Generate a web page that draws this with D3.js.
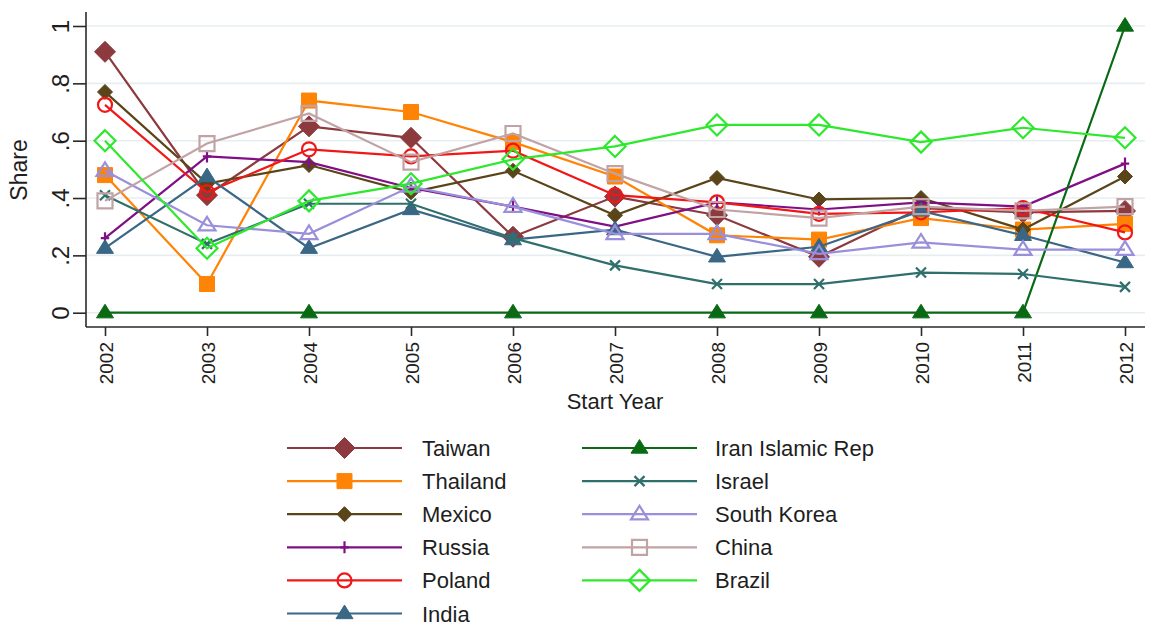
<!DOCTYPE html>
<html>
<head>
<meta charset="utf-8">
<script src="https://cdn.jsdelivr.net/npm/d3@7"></script>
<style>
  html, body { margin: 0; padding: 0; background: #fff; }
  svg { display: block; }
  text { font-family: "Liberation Sans", Arial, sans-serif; fill: #1e1e1e; }
</style>
</head>
<body>
<svg id="chart" width="1150" height="628"></svg>
<script>
// Start years on the x axis
const years = [2002, 2003, 2004, 2005, 2006, 2007, 2008, 2009, 2010, 2011, 2012];

// Share by start year for each country (null = no observation that year)
const taiwan     = [0.91, 0.41, 0.65, 0.61, 0.265, 0.405, 0.34, 0.195, 0.365, 0.35, 0.355];
const thailand   = [0.48, 0.10, 0.74, 0.70, 0.595, 0.475, 0.27, 0.255, 0.33, 0.29, 0.31];
const mexico     = [0.77, 0.45, 0.515, 0.42, 0.495, 0.34, 0.47, 0.395, 0.40, 0.29, 0.475];
const russia     = [0.26, 0.545, 0.525, 0.435, 0.37, 0.30, 0.385, 0.36, 0.385, 0.37, 0.52];
const poland     = [0.725, 0.42, 0.57, 0.545, 0.565, 0.41, 0.385, 0.345, 0.35, 0.365, 0.28];
const india      = [0.225, 0.475, 0.225, 0.36, 0.255, 0.29, 0.195, 0.23, 0.355, 0.27, 0.175];
const iran       = [0, null, 0, null, 0, null, 0, 0, 0, 0, 1.0];
const israel     = [0.41, 0.24, 0.38, 0.38, 0.26, 0.165, 0.10, 0.10, 0.14, 0.135, 0.09];
const southKorea = [0.495, 0.305, 0.275, 0.44, 0.37, 0.275, 0.275, 0.205, 0.245, 0.22, 0.22];
const china      = [0.39, 0.59, 0.695, 0.525, 0.625, 0.485, 0.36, 0.33, 0.37, 0.355, 0.37];
const brazil     = [0.60, 0.225, 0.39, 0.45, 0.535, 0.58, 0.655, 0.655, 0.595, 0.645, 0.61];

const seriesNames = ["Taiwan", "Thailand", "Mexico", "Russia", "Poland", "India",
                     "Iran Islamic Rep", "Israel", "South Korea", "China", "Brazil"];

// Axis tick values and labels
const yTicks = [0, 0.2, 0.4, 0.6, 0.8, 1];
const yTickLabels = ["0", ".2", ".4", ".6", ".8", "1"];

// Line colour and marker style for each series
const styles = [
  { color: "#8c3a3e", shape: "diamond", size: 10.5, fill: true },
  { color: "#ff8406", shape: "square",  size: 7.5, fill: true },
  { color: "#5a4419", shape: "diamond", size: 7.5, fill: true },
  { color: "#800f86", shape: "plus",    size: 6, fill: false },
  { color: "#f11717", shape: "circle",  size: 7, fill: false },
  { color: "#3a6785", shape: "triangle",size: 8.5, fill: true },
  { color: "#0a6a14", shape: "triangle",size: 8.5, fill: true },
  { color: "#2f6f6c", shape: "cross",   size: 5, fill: false },
  { color: "#9a8fda", shape: "triangle",size: 8.5, fill: false },
  { color: "#c1a3a6", shape: "square",  size: 7.5, fill: false },
  { color: "#2ee82e", shape: "diamond", size: 10.5, fill: false }
];

const values = [taiwan, thailand, mexico, russia, poland, india, iran, israel, southKorea, china, brazil];
const series = seriesNames.map((name, i) => ({
  name,
  style: styles[i],
  points: years.map((yr, j) => ({ year: yr, value: values[i][j] }))
                .filter(d => d.value !== null)
}));

const svg = d3.select("#chart");

const x = d3.scaleLinear().domain([2002, 2012]).range([105, 1125]);
const y = d3.scaleLinear().domain([0, 1]).range([312.7, 26]);

const plotLeft = 86, plotRight = 1145, plotTop = 12, plotBottom = 327;

// Horizontal grid lines
svg.append("g")
  .selectAll("line")
  .data(yTicks)
  .join("line")
  .attr("x1", plotLeft).attr("x2", plotRight)
  .attr("y1", d => y(d)).attr("y2", d => y(d))
  .attr("stroke", "#e7eef1").attr("stroke-width", 1.6);

// Marker path for a given shape
function markerPath(shape, s) {
  const p = d3.path();
  if (shape === "diamond") {
    p.moveTo(0, -s); p.lineTo(s, 0); p.lineTo(0, s); p.lineTo(-s, 0); p.closePath();
  } else if (shape === "square") {
    p.rect(-s, -s, 2 * s, 2 * s);
  } else if (shape === "triangle") {
    const h = s * 1.6;
    p.moveTo(0, -h * 0.62); p.lineTo(s, h * 0.38); p.lineTo(-s, h * 0.38); p.closePath();
  } else if (shape === "circle") {
    p.arc(0, 0, s, 0, 2 * Math.PI);
  } else if (shape === "plus") {
    p.moveTo(0, -s); p.lineTo(0, s); p.moveTo(-s * 0.7, 0); p.lineTo(s * 0.7, 0);
  } else if (shape === "cross") {
    p.moveTo(-s, -s); p.lineTo(s, s); p.moveTo(s, -s); p.lineTo(-s, s);
  }
  return p.toString();
}

function drawMarker(sel, st) {
  const open = !st.fill;
  sel.append("path")
    .attr("d", markerPath(st.shape, st.size))
    .attr("fill", open ? "none" : st.color)
    .attr("stroke", st.color)
    .attr("stroke-width", open ? 2.2 : 1)
    .attr("stroke-linejoin", "miter");
}

const line = d3.line().x(d => x(d.year)).y(d => y(d.value));

// Lines and markers, drawn in series order
const gSeries = svg.append("g");
series.forEach(s => {
  const g = gSeries.append("g");
  g.append("path")
    .datum(s.points)
    .attr("fill", "none")
    .attr("stroke", s.style.color)
    .attr("stroke-width", 2.2)
    .attr("d", line);
  g.selectAll("g.pt")
    .data(s.points)
    .join("g")
    .attr("class", "pt")
    .attr("transform", d => `translate(${x(d.year)},${y(d.value)})`)
    .each(function () { drawMarker(d3.select(this), s.style); });
});

// Axis lines
svg.append("line")
  .attr("x1", plotLeft).attr("x2", plotLeft).attr("y1", plotTop).attr("y2", plotBottom)
  .attr("stroke", "#2a2a2a").attr("stroke-width", 1.6);
svg.append("line")
  .attr("x1", plotLeft).attr("x2", plotRight).attr("y1", plotBottom).attr("y2", plotBottom)
  .attr("stroke", "#2a2a2a").attr("stroke-width", 1.6);

// Y axis
const yAxis = d3.axisLeft(y)
  .tickValues(yTicks)
  .tickFormat((d, i) => yTickLabels[i])
  .tickSize(13)
  .tickPadding(0);
const gy = svg.append("g").attr("transform", `translate(${plotLeft},0)`).call(yAxis);
gy.select(".domain").remove();
gy.selectAll(".tick line").attr("stroke", "#2a2a2a").attr("stroke-width", 1.6);
gy.selectAll(".tick text")
  .attr("x", null).attr("dy", null)
  .attr("text-anchor", "middle")
  .attr("transform", "translate(-26,0) rotate(-90) translate(0,8.5)")
  .style("font-size", "24px")
  .attr("fill", "#1e1e1e");

// X axis
const xAxis = d3.axisBottom(x)
  .tickValues(years)
  .tickFormat(d3.format("d"))
  .tickSize(9)
  .tickPadding(0);
const gx = svg.append("g").attr("transform", `translate(0,${plotBottom})`).call(xAxis);
gx.select(".domain").remove();
gx.selectAll(".tick line").attr("stroke", "#2a2a2a").attr("stroke-width", 1.6);
gx.selectAll(".tick text")
  .attr("y", null).attr("dy", null)
  .attr("text-anchor", "end")
  .attr("transform", "translate(0,15) rotate(-90) translate(0,7)")
  .style("font-size", "19px")
  .attr("fill", "#1e1e1e");

// Axis titles
svg.append("text")
  .attr("transform", "translate(27,170) rotate(-90)")
  .attr("text-anchor", "middle")
  .style("font-size", "23px")
  .text("Share");
svg.append("text")
  .attr("x", 615).attr("y", 409)
  .attr("text-anchor", "middle")
  .style("font-size", "22px")
  .text("Start Year");

// Legend: two columns, filled down the first column
const legendCols = [{ x0: 287, x1: 402, tx: 422 }, { x0: 582, x1: 697, tx: 715 }];
const legendTop = 448, legendStep = 33.1, perCol = 6;
const gLegend = svg.append("g");
series.forEach((s, i) => {
  const col = legendCols[Math.floor(i / perCol)];
  const ly = legendTop + (i % perCol) * legendStep;
  const g = gLegend.append("g");
  g.append("line")
    .attr("x1", col.x0).attr("x2", col.x1).attr("y1", ly).attr("y2", ly)
    .attr("stroke", s.style.color).attr("stroke-width", 2.2);
  const m = g.append("g").attr("transform", `translate(${(col.x0 + col.x1) / 2},${ly})`);
  drawMarker(m, s.style);
  g.append("text")
    .attr("x", col.tx).attr("y", ly + 8)
    .style("font-size", "22px")
    .text(s.name);
});
</script>
</body>
</html>
